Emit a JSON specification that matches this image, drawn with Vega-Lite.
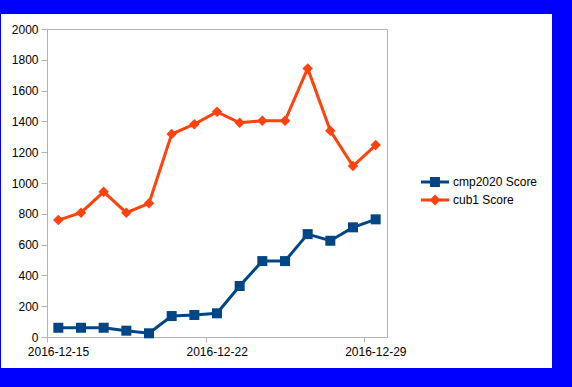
{
  "$schema": "https://vega.github.io/schema/vega-lite/v6.json",
  "width": 340,
  "height": 308,
  "autosize": "none",
  "padding": {"left": 47, "top": 29, "right": 185, "bottom": 50},
  "background": "white",
  "config": {
    "view": {"stroke": "#b3b3b3", "fill": "white"},
    "font": "Liberation Sans"
  },
  "datasets": {
    "scores": [
      {"date": "2016-12-15T12:00:00", "series": "cmp2020 Score", "score": 60},
      {"date": "2016-12-16T12:00:00", "series": "cmp2020 Score", "score": 60},
      {"date": "2016-12-17T12:00:00", "series": "cmp2020 Score", "score": 60},
      {"date": "2016-12-18T12:00:00", "series": "cmp2020 Score", "score": 41},
      {"date": "2016-12-19T12:00:00", "series": "cmp2020 Score", "score": 24},
      {"date": "2016-12-20T12:00:00", "series": "cmp2020 Score", "score": 136},
      {"date": "2016-12-21T12:00:00", "series": "cmp2020 Score", "score": 143},
      {"date": "2016-12-22T12:00:00", "series": "cmp2020 Score", "score": 154},
      {"date": "2016-12-23T12:00:00", "series": "cmp2020 Score", "score": 331},
      {"date": "2016-12-24T12:00:00", "series": "cmp2020 Score", "score": 493},
      {"date": "2016-12-25T12:00:00", "series": "cmp2020 Score", "score": 493},
      {"date": "2016-12-26T12:00:00", "series": "cmp2020 Score", "score": 668},
      {"date": "2016-12-27T12:00:00", "series": "cmp2020 Score", "score": 625},
      {"date": "2016-12-28T12:00:00", "series": "cmp2020 Score", "score": 712},
      {"date": "2016-12-29T12:00:00", "series": "cmp2020 Score", "score": 764},
      {"date": "2016-12-15T12:00:00", "series": "cub1 Score", "score": 759},
      {"date": "2016-12-16T12:00:00", "series": "cub1 Score", "score": 807},
      {"date": "2016-12-17T12:00:00", "series": "cub1 Score", "score": 943},
      {"date": "2016-12-18T12:00:00", "series": "cub1 Score", "score": 807},
      {"date": "2016-12-19T12:00:00", "series": "cub1 Score", "score": 868},
      {"date": "2016-12-20T12:00:00", "series": "cub1 Score", "score": 1318},
      {"date": "2016-12-21T12:00:00", "series": "cub1 Score", "score": 1382},
      {"date": "2016-12-22T12:00:00", "series": "cub1 Score", "score": 1462},
      {"date": "2016-12-23T12:00:00", "series": "cub1 Score", "score": 1391},
      {"date": "2016-12-24T12:00:00", "series": "cub1 Score", "score": 1404},
      {"date": "2016-12-25T12:00:00", "series": "cub1 Score", "score": 1404},
      {"date": "2016-12-26T12:00:00", "series": "cub1 Score", "score": 1744},
      {"date": "2016-12-27T12:00:00", "series": "cub1 Score", "score": 1339},
      {"date": "2016-12-28T12:00:00", "series": "cub1 Score", "score": 1110},
      {"date": "2016-12-29T12:00:00", "series": "cub1 Score", "score": 1246}
    ]
  },
  "layer": [
    {
      "data": {"values": [{}]},
      "mark": {"type": "rect", "fill": null, "fillOpacity": 0, "stroke": "#0000ff", "strokeWidth": 40, "clip": false},
      "encoding": {
        "x": {"datum": {"year": 2016, "month": 12, "date": 12, "hours": 2, "minutes": 7}, "type": "temporal"},
        "x2": {"datum": {"year": 2017, "month": 1, "date": 7, "hours": 3, "minutes": 53}},
        "y": {
          "datum": 2227, "type": "quantitative",
          "axis": {
            "title": null, "values": [0, 200, 400, 600, 800, 1000, 1200, 1400, 1600, 1800, 2000], "tickCount": 11,
            "format": "d", "labelFontSize": 12, "labelColor": "black", "labelPadding": 3,
            "tickSize": 6, "tickColor": "#b3b3b3", "domainColor": "#b3b3b3",
            "gridColor": "#b3b3b3", "labelOverlap": false
          }
        },
        "y2": {"datum": -331}
      }
    },
    {
      "data": {"name": "scores"},
      "mark": {"type": "line", "strokeWidth": 3},
      "encoding": {
        "x": {
          "field": "date", "type": "temporal",
          "scale": {"domain": [{"year": 2016, "month": 12, "date": 15}, {"year": 2016, "month": 12, "date": 30}]},
          "axis": {
            "title": null, "grid": false,
            "values": [{"year": 2016, "month": 12, "date": 15}, {"year": 2016, "month": 12, "date": 22}, {"year": 2016, "month": 12, "date": 29}],
            "format": "%Y-%m-%d", "labelFontSize": 12, "labelColor": "black",
            "labelOffset": 11, "labelPadding": 4, "tickSize": 5,
            "tickColor": "#b3b3b3", "domainColor": "#b3b3b3", "labelFlush": false, "labelOverlap": false
          }
        },
        "y": {
          "field": "score", "type": "quantitative",
          "scale": {"domain": [0, 2000], "nice": false},
          "axis": {
            "title": null, "values": [0, 200, 400, 600, 800, 1000, 1200, 1400, 1600, 1800, 2000], "tickCount": 11,
            "format": "d", "labelFontSize": 12, "labelColor": "black", "labelPadding": 3,
            "tickSize": 6, "tickColor": "#b3b3b3", "domainColor": "#b3b3b3",
            "gridColor": "#b3b3b3", "labelOverlap": false
          }
        },
        "color": {
          "field": "series", "type": "nominal",
          "scale": {"domain": ["cmp2020 Score", "cub1 Score"], "range": ["#004586", "#ff420e"]},
          "legend": {
            "title": null, "orient": "none", "legendX": 379, "legendY": 144,
            "padding": 0, "symbolSize": 324, "labelOffset": 9, "rowPadding": 3,
            "labelFontSize": 12, "labelColor": "black", "labelFont": "Liberation Sans",
            "encode": {
              "symbols": {
                "update": {
                  "shape": {"signal": "datum.value === 'cmp2020 Score' ? 'M-1.56,-0.17H1.56V0.17H-1.56Z M-0.55,-0.55H0.55V0.55H-0.55Z' : 'M-1.56,-0.17H1.56V0.17H-1.56Z M0,-0.6L0.6,0L0,0.6L-0.6,0Z'"},
                  "fill": {"signal": "datum.value === 'cmp2020 Score' ? '#004586' : '#ff420e'"},
                  "fillOpacity": {"value": 1},
                  "opacity": {"value": 1},
                  "strokeWidth": {"value": 0}
                }
              }
            }
          }
        }
      }
    },
    {
      "data": {"name": "scores"},
      "transform": [{"filter": "datum.series === 'cmp2020 Score'"}],
      "mark": {"type": "point", "shape": "square", "filled": true, "size": 100, "opacity": 1},
      "encoding": {
        "x": {"field": "date", "type": "temporal"},
        "y": {"field": "score", "type": "quantitative"},
        "color": {"field": "series", "type": "nominal"}
      }
    },
    {
      "data": {"name": "scores"},
      "transform": [{"filter": "datum.series === 'cub1 Score'"}],
      "mark": {"type": "point", "shape": "diamond", "filled": true, "size": 110, "opacity": 1},
      "encoding": {
        "x": {"field": "date", "type": "temporal"},
        "y": {"field": "score", "type": "quantitative"},
        "color": {"field": "series", "type": "nominal"}
      }
    }
  ]
}
